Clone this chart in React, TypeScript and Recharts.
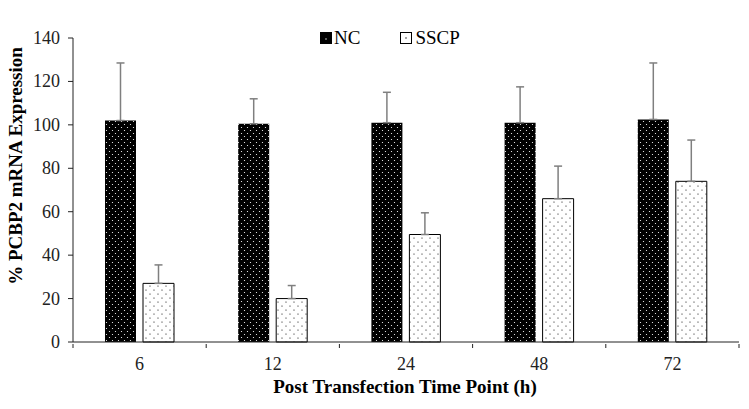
import React from "react";
import {
  BarChart,
  Bar,
  XAxis,
  YAxis,
  ErrorBar,
  Legend,
} from "recharts";

const timePoints = ["6", "12", "24", "48", "72"];
const ncValues = [102, 100.5, 101, 101, 102.5];
const ncErrors = [26.5, 11.5, 14, 16.5, 26];
const sscpValues = [27, 20, 49.5, 66, 74];
const sscpErrors = [8.5, 6, 10, 15, 19];
const yTicks = [0, 20, 40, 60, 80, 100, 120, 140];

const FONT = '"Liberation Serif", "Times New Roman", serif';

const data = timePoints.map((t, i) => ({
  time: t,
  NC: ncValues[i],
  ncErr: [0, ncErrors[i]],
  SSCP: sscpValues[i],
  sscpErr: [0, sscpErrors[i]],
}));

// category labels in the middle, small tick marks on the band edges
const XTick = (props: any) => {
  const { x, y, payload, index, visibleTicksCount } = props;
  const half = payload.offset || 0;
  const last = index === visibleTicksCount - 1;
  return (
    <g>
      <line x1={x - half} y1={y} x2={x - half} y2={y + 4} stroke="#222" />
      {last && <line x1={x + half} y1={y} x2={x + half} y2={y + 4} stroke="#222" />}
      <text
        x={x}
        y={y + 26}
        textAnchor="middle"
        fontFamily={FONT}
        fontSize={18}
        fill="#222"
      >
        {payload.value}
      </text>
    </g>
  );
};

const YTick = (props: any) => {
  const { x, y, payload } = props;
  return (
    <text
      x={x}
      y={y}
      textAnchor="end"
      dominantBaseline="central"
      fontFamily={FONT}
      fontSize={18}
      fill="#222"
    >
      {payload.value}
    </text>
  );
};

const LegendContent = () => (
  <div style={{ display: "flex", fontFamily: FONT, fontSize: 19, color: "#000" }}>
    <div style={{ display: "flex", alignItems: "center", marginRight: 40 }}>
      <svg width={12} height={12} style={{ marginRight: 2 }}>
        <rect x={0} y={0} width={12} height={12} fill="#000" />
        <circle cx={6} cy={7} r={0.7} fill="#fff" />
      </svg>
      <span>NC</span>
    </div>
    <div style={{ display: "flex", alignItems: "center" }}>
      <svg width={12} height={12} style={{ marginRight: 3 }}>
        <rect x={0.5} y={0.5} width={11} height={11} fill="#fff" stroke="#000" />
        <circle cx={6} cy={6} r={0.7} fill="#000" />
      </svg>
      <span>SSCP</span>
    </div>
  </div>
);

const YTitle = () => (
  <text
    x={15}
    y={166}
    transform="rotate(-90, 15, 166)"
    textAnchor="middle"
    dominantBaseline="central"
    fontFamily={FONT}
    fontWeight="bold"
    fontSize={19}
    fill="#000"
  >
    % PCBP2 mRNA Expression
  </text>
);

const XTitle = () => (
  <text
    x={405}
    y={393}
    textAnchor="middle"
    fontFamily={FONT}
    fontWeight="bold"
    fontSize={19}
    fill="#000"
  >
    Post Transfection Time Point (h)
  </text>
);

export default function App() {
  return (
    <div style={{ position: "absolute", left: 0, top: 0, background: "#fff" }}>
      <BarChart
        width={749}
        height={409}
        data={data}
        margin={{ top: 16, right: 10, left: 0, bottom: 0 }}
        barSize={31}
        barGap={7}
      >
        <defs>
          <pattern id="dotsDark" width={6} height={6} patternUnits="userSpaceOnUse">
            <rect width={6} height={6} fill="#000" />
            <circle cx={1.5} cy={1.5} r={0.6} fill="#fff" />
            <circle cx={4.5} cy={4.5} r={0.6} fill="#fff" />
          </pattern>
          <pattern id="dotsLight" width={8} height={8} patternUnits="userSpaceOnUse">
            <rect width={8} height={8} fill="#fff" />
            <circle cx={2} cy={2} r={0.6} fill="#000" />
            <circle cx={6} cy={6} r={0.6} fill="#000" />
          </pattern>
        </defs>
        <XAxis
          dataKey="time"
          tickLine={false}
          tickSize={0}
          axisLine={{ stroke: "#222" }}
          tick={<XTick />}
          height={67}
          label={<XTitle />}
        />
        <YAxis
          domain={[0, 140]}
          ticks={yTicks}
          width={73}
          tickSize={5}
          tickMargin={8}
          axisLine={{ stroke: "#222" }}
          tickLine={{ stroke: "#222" }}
          tick={<YTick />}
          label={<YTitle />}
        />
        <Legend
          verticalAlign="top"
          content={<LegendContent />}
          wrapperStyle={{ top: 27, left: 320, width: "auto" }}
        />
        <Bar dataKey="NC" fill="url(#dotsDark)" isAnimationActive={false}>
          <ErrorBar dataKey="ncErr" width={4} stroke="#7f7f7f" strokeWidth={1.5} direction="y" />
        </Bar>
        <Bar
          dataKey="SSCP"
          fill="url(#dotsLight)"
          stroke="#000"
          strokeWidth={1}
          isAnimationActive={false}
        >
          <ErrorBar dataKey="sscpErr" width={4} stroke="#7f7f7f" strokeWidth={1.5} direction="y" />
        </Bar>
      </BarChart>
    </div>
  );
}
